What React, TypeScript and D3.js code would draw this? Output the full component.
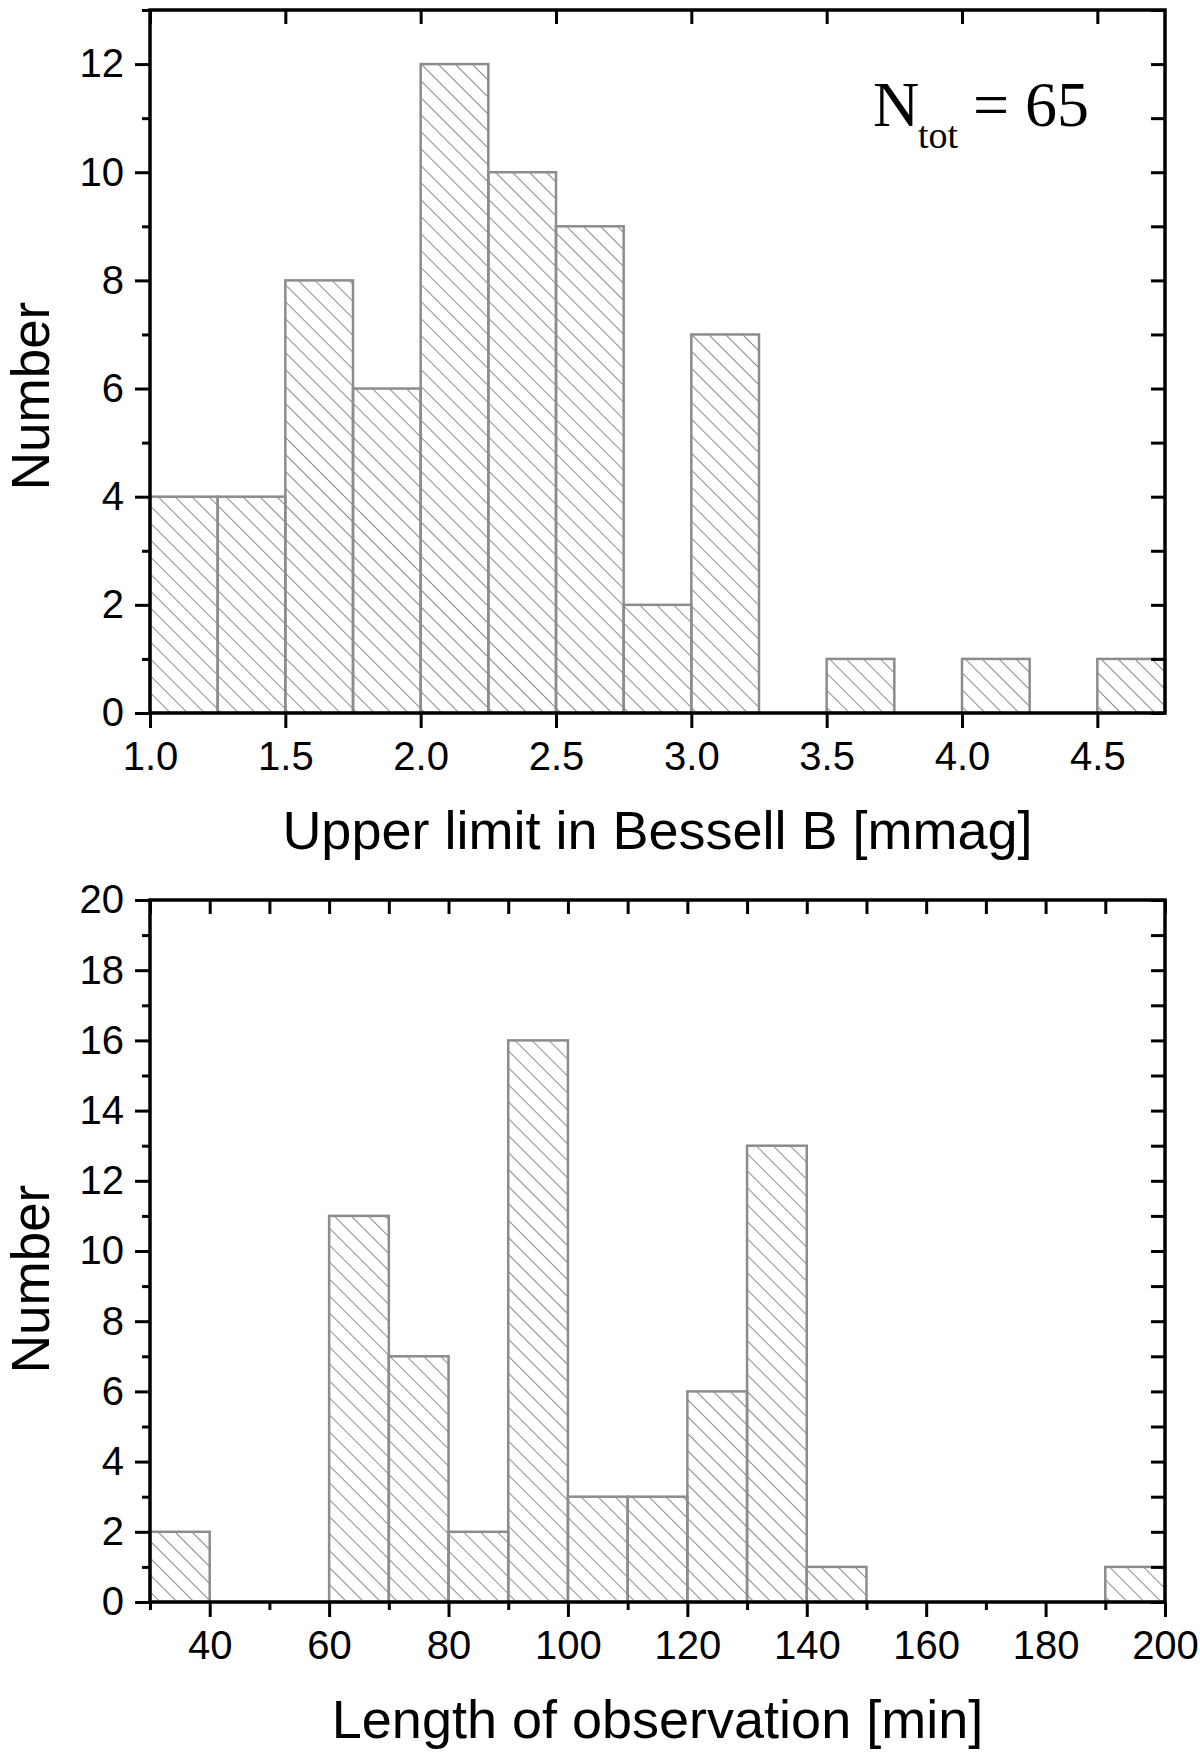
import { useEffect, useRef } from "react";
import * as d3 from "d3";

// Top panel: upper limit in Bessell B (bin edges in mmag)
const bessellBinStart = [1.0, 1.25, 1.5, 1.75, 2.0, 2.25, 2.5, 2.75, 3.0, 3.25, 3.5, 3.75, 4.0, 4.25, 4.5];
const bessellBinEnd = [1.25, 1.5, 1.75, 2.0, 2.25, 2.5, 2.75, 3.0, 3.25, 3.5, 3.75, 4.0, 4.25, 4.5, 4.75];
const bessellCounts = [4, 4, 8, 6, 12, 10, 9, 2, 7, 0, 1, 0, 1, 0, 1];
const bessellXTicks = [1.0, 1.5, 2.0, 2.5, 3.0, 3.5, 4.0, 4.5];
const bessellYMajor = [0, 2, 4, 6, 8, 10, 12];
const bessellYMinor = [1, 3, 5, 7, 9, 11, 13];

// Bottom panel: length of observation (bin edges in min)
const lengthBinStart = [30, 40, 50, 60, 70, 80, 90, 100, 110, 120, 130, 140, 150, 160, 170, 180, 190];
const lengthBinEnd = [40, 50, 60, 70, 80, 90, 100, 110, 120, 130, 140, 150, 160, 170, 180, 190, 200];
const lengthCounts = [2, 0, 0, 11, 7, 2, 16, 3, 3, 6, 13, 1, 0, 0, 0, 0, 1];
const lengthXMajor = [40, 60, 80, 100, 120, 140, 160, 180, 200];
const lengthXMinor = [30, 50, 70, 90, 110, 130, 150, 170, 190];
const lengthYMajor = [0, 2, 4, 6, 8, 10, 12, 14, 16, 18, 20];
const lengthYMinor = [1, 3, 5, 7, 9, 11, 13, 15, 17, 19];

const WIDTH = 1200;
const HEIGHT = 1758;
const SANS = "'Liberation Sans', Arial, Helvetica, sans-serif";
const SERIF = "'Liberation Serif', 'Times New Roman', serif";

interface PanelSpec {
  top: number;
  bottom: number;
  xDomain: [number, number];
  yDomain: [number, number];
  starts: number[];
  ends: number[];
  counts: number[];
  xMajor: number[];
  xMinor: number[];
  xTopTicks: number[];
  yMajor: number[];
  yMinor: number[];
  xFormat: (d: number) => string;
  xLabel: string;
  yLabelCenter: number;
}

export default function App() {
  const svgRef = useRef<SVGSVGElement>(null);

  useEffect(() => {
    if (!svgRef.current) return;
    const svg = d3.select(svgRef.current);
    svg.selectAll("*").remove();

    const left = 150;
    const right = 1165;

    // Hatch pattern
    const defs = svg.append("defs");
    defs.append("pattern")
      .attr("id", "hatch")
      .attr("patternUnits", "userSpaceOnUse")
      .attr("width", 12)
      .attr("height", 12)
      .attr("patternTransform", "rotate(-45)")
      .append("line")
      .attr("x1", 0).attr("y1", 0)
      .attr("x2", 0).attr("y2", 12)
      .attr("stroke", "#6e6e6e")
      .attr("stroke-width", 1.6);

    const drawPanel = (p: PanelSpec) => {
      const x = d3.scaleLinear().domain(p.xDomain).range([left, right]);
      const y = d3.scaleLinear().domain(p.yDomain).range([p.bottom, p.top]);
      const g = svg.append("g");

      // Bars
      const bins = p.counts.map((c, i) => ({ x0: p.starts[i], x1: p.ends[i], c })).filter(b => b.c > 0);
      g.selectAll("rect.bar")
        .data(bins)
        .join("rect")
        .attr("class", "bar")
        .attr("x", d => x(d.x0))
        .attr("y", d => y(d.c))
        .attr("width", d => x(d.x1) - x(d.x0))
        .attr("height", d => y(0) - y(d.c))
        .attr("fill", "url(#hatch)")
        .attr("stroke", "#8c8c8c")
        .attr("stroke-width", 2.5);

      const styleAxis = (sel: d3.Selection<SVGGElement, unknown, null, undefined>) => {
        sel.select(".domain").remove();
        sel.selectAll(".tick line").attr("stroke", "#000").attr("stroke-width", 3);
        sel.selectAll(".tick text")
          .attr("fill", "#000")
          .attr("font-family", SANS)
          .attr("font-size", 40);
      };

      // Left axis
      g.append("g")
        .attr("transform", `translate(${left},0)`)
        .call(d3.axisLeft(y).tickValues(p.yMajor).tickSize(15).tickPadding(11).tickFormat(d => `${d}`))
        .call(styleAxis);
      g.append("g")
        .attr("transform", `translate(${left},0)`)
        .call(d3.axisLeft(y).tickValues(p.yMinor).tickSize(8).tickFormat(() => ""))
        .call(styleAxis);

      // Right axis (inward)
      g.append("g")
        .attr("transform", `translate(${right},0)`)
        .call(d3.axisRight(y).tickValues([...p.yMajor, ...p.yMinor]).tickSize(-14).tickFormat(() => ""))
        .call(styleAxis);

      // Bottom axis
      const bx = g.append("g")
        .attr("transform", `translate(0,${p.bottom})`)
        .call(d3.axisBottom(x).tickValues(p.xMajor).tickSize(15).tickPadding(14).tickFormat(d => p.xFormat(d as number)))
        .call(styleAxis);
      bx.selectAll(".tick text").attr("dy", "0.71em");
      if (p.xMinor.length) {
        g.append("g")
          .attr("transform", `translate(0,${p.bottom})`)
          .call(d3.axisBottom(x).tickValues(p.xMinor).tickSize(8).tickFormat(() => ""))
          .call(styleAxis);
      }

      // Top axis (inward)
      g.append("g")
        .attr("transform", `translate(0,${p.top})`)
        .call(d3.axisTop(x).tickValues(p.xTopTicks).tickSize(-14).tickFormat(() => ""))
        .call(styleAxis);

      // Frame
      g.append("rect")
        .attr("x", left)
        .attr("y", p.top)
        .attr("width", right - left)
        .attr("height", p.bottom - p.top)
        .attr("fill", "none")
        .attr("stroke", "#000")
        .attr("stroke-width", 3.5);

      // Axis labels
      g.append("text")
        .attr("x", (left + right) / 2)
        .attr("y", p.bottom + 136)
        .attr("text-anchor", "middle")
        .attr("font-family", SANS)
        .attr("font-size", 54)
        .attr("fill", "#000")
        .text(p.xLabel);

      g.append("text")
        .attr("transform", `translate(49,${p.yLabelCenter}) rotate(-90)`)
        .attr("text-anchor", "middle")
        .attr("font-family", SANS)
        .attr("font-size", 53)
        .attr("fill", "#000")
        .text("Number");
    };

    drawPanel({
      top: 10,
      bottom: 713,
      xDomain: [1.0, 4.75],
      yDomain: [0, 13],
      starts: bessellBinStart,
      ends: bessellBinEnd,
      counts: bessellCounts,
      xMajor: bessellXTicks,
      xMinor: [],
      xTopTicks: bessellXTicks,
      yMajor: bessellYMajor,
      yMinor: bessellYMinor,
      xFormat: d => d3.format(".1f")(d),
      xLabel: "Upper limit in Bessell B [mmag]",
      yLabelCenter: 396,
    });

    drawPanel({
      top: 900,
      bottom: 1602,
      xDomain: [30, 200],
      yDomain: [0, 20],
      starts: lengthBinStart,
      ends: lengthBinEnd,
      counts: lengthCounts,
      xMajor: lengthXMajor,
      xMinor: lengthXMinor,
      xTopTicks: [...lengthXMinor, ...lengthXMajor],
      yMajor: lengthYMajor,
      yMinor: lengthYMinor,
      xFormat: d => `${d}`,
      xLabel: "Length of observation [min]",
      yLabelCenter: 1279,
    });

    // N_tot annotation
    const note = svg.append("g").attr("font-family", SERIF).attr("fill", "#000");
    note.append("text").attr("x", 873).attr("y", 126).attr("font-size", 64).text("N");
    note.append("text").attr("x", 918).attr("y", 148).attr("font-size", 38).text("tot");
    note.append("text").attr("x", 973).attr("y", 126).attr("font-size", 64).text("= 65");
  }, []);

  return (
    <svg
      ref={svgRef}
      width={WIDTH}
      height={HEIGHT}
      style={{ position: "absolute", left: 0, top: 0, background: "#fff" }}
    />
  );
}
